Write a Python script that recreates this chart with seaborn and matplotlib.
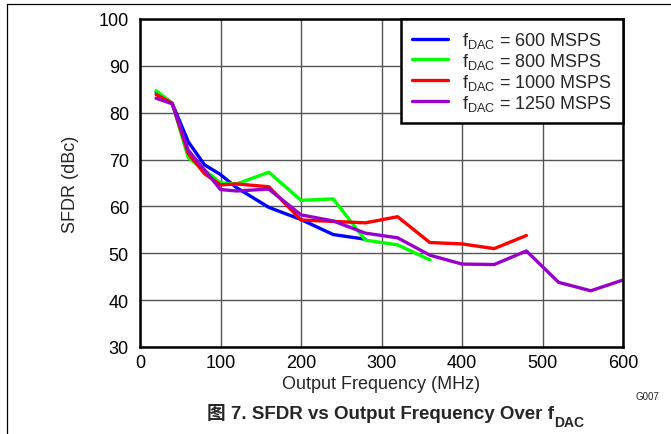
import numpy as np
import pandas as pd
import matplotlib
matplotlib.use("Agg")
import matplotlib.pyplot as plt
import seaborn as sns
from matplotlib.lines import Line2D

# values (MHz, dBc)
freq_600 = [20, 40, 60, 80, 100, 120, 160, 200, 240, 280]
sfdr_600 = [84.4, 82.0, 73.8, 68.9, 66.8, 64.0, 59.8, 57.2, 54.0, 53.0]

freq_800 = [20, 40, 60, 80, 100, 120, 160, 200, 240, 280, 320, 360]
sfdr_800 = [84.7, 82.0, 70.4, 67.8, 65.0, 64.8, 67.3, 61.3, 61.6, 52.8, 51.8, 48.6]

freq_1000 = [20, 40, 60, 80, 100, 120, 160, 200, 240, 280, 320, 360, 400, 440, 480]
sfdr_1000 = [83.9, 82.0, 71.3, 67.0, 64.6, 64.8, 64.2, 57.1, 56.8, 56.5, 57.8, 52.3, 52.0, 51.0, 53.8]

freq_1250 = [20, 40, 60, 80, 100, 120, 160, 200, 240, 280, 320, 360, 400, 440, 480, 520, 560, 600]
sfdr_1250 = [83.1, 81.9, 72.0, 67.8, 63.6, 63.3, 63.7, 58.2, 56.9, 54.3, 53.3, 49.6, 47.7, 47.6, 50.5, 43.8, 42.0, 44.3]

series_names = ["600", "800", "1000", "1250"]
series_colors = ["#0000FF", "#00FF00", "#FF0000", "#9900CC"]

frames = []
for name, f, s in zip(series_names,
                      [freq_600, freq_800, freq_1000, freq_1250],
                      [sfdr_600, sfdr_800, sfdr_1000, sfdr_1250]):
    frames.append(pd.DataFrame({"freq": f, "sfdr": s, "fdac": name}))
df = pd.concat(frames, ignore_index=True)

sns.set_style("white")
plt.rcParams["font.family"] = ["Liberation Sans", "Noto Sans CJK SC"]
plt.rcParams["mathtext.fontset"] = "custom"
plt.rcParams["mathtext.rm"] = "Liberation Sans"
plt.rcParams["mathtext.bf"] = "Liberation Sans:bold"

fig = plt.figure(figsize=(6.71, 4.35), dpi=100, facecolor="white")
ax = fig.add_axes([140 / 671, 1 - 348 / 435, 483 / 671, 328 / 435])

sns.lineplot(data=df, x="freq", y="sfdr", hue="fdac", palette=series_colors,
             hue_order=series_names, linewidth=2.4, legend=False, ax=ax,
             sort=False, estimator=None)

ax.set_xlim(0, 600)
ax.set_ylim(30, 100)
ax.set_xticks(np.arange(0, 601, 100))
ax.set_yticks(np.arange(30, 101, 10))
ax.tick_params(length=0, labelsize=13, colors="black")
ax.tick_params(axis="y", pad=8)
ax.tick_params(axis="x", pad=5)
ax.grid(True, color="#555555", linewidth=1.0)
for sp in ax.spines.values():
    sp.set_visible(True)
    sp.set_color("black")
    sp.set_linewidth(1.8)
ax.set_xlabel("Output Frequency (MHz)", fontsize=13, labelpad=3)
ax.set_ylabel("SFDR (dBc)", fontsize=13, labelpad=14)

handles = [Line2D([0], [0], color=c, lw=2.4) for c in series_colors]
labels = [r"f$_{\mathrm{DAC}}$ = " + n + " MSPS" for n in series_names]
leg = ax.legend(handles, labels, loc="upper right", borderaxespad=0, fontsize=13,
                fancybox=False, framealpha=1, edgecolor="black",
                handlelength=2.0, handletextpad=0.8, labelspacing=0.05,
                borderpad=0.6)
leg.get_frame().set_linewidth(1.8)

fig.text(635 / 671, 1 - 397 / 435, "G007", fontsize=7, ha="left", va="center")

# caption with subscript
cap = fig.text(207 / 671, 1 - 419 / 435, "图 7. SFDR vs Output Frequency Over f",
               fontsize=13.5, fontweight="bold", ha="left", va="baseline")
ax.annotate("DAC", xy=(1, 0), xycoords=cap, xytext=(0.3, 0), textcoords="offset points",
            fontsize=10, fontweight="bold", ha="left", va="center")

# page frame lines
fig.add_artist(Line2D([6.5 / 671, 6.5 / 671], [0, 1 - 5 / 435], color="black", lw=0.9))
fig.add_artist(Line2D([6.5 / 671, 1], [1 - 5 / 435, 1 - 5 / 435], color="black", lw=0.9))

fig.savefig("out.png", dpi=100, facecolor="white")
